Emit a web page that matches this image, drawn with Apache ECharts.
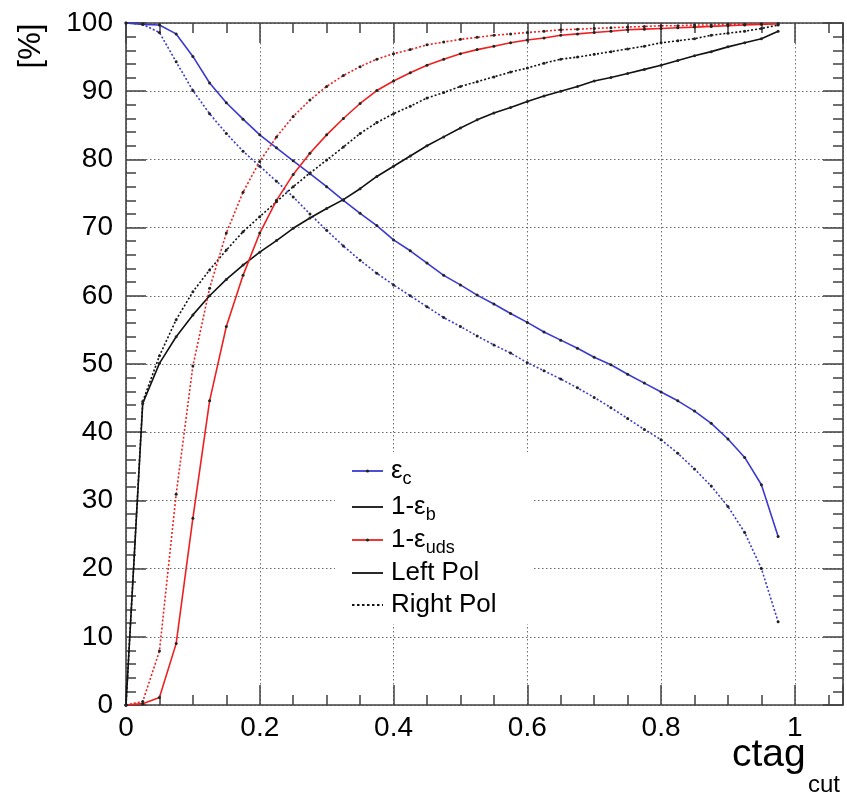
<!DOCTYPE html>
<html>
<head>
<meta charset="utf-8">
<script src="https://cdn.jsdelivr.net/npm/echarts@6/dist/echarts.min.js"></script>
<style>
html,body{margin:0;padding:0;background:#fff;}
#c{width:847px;height:797px;}
</style>
</head>
<body>
<div id="c"></div>
<script>
// ---------------- data ----------------
const ctagCut = [0,0.025,0.05,0.075,0.1,0.125,0.15,0.175,0.2,0.225,0.25,0.275,0.3,0.325,0.35,0.375,0.4,0.425,0.45,0.475,0.5,0.525,0.55,0.575,0.6,0.625,0.65,0.675,0.7,0.725,0.75,0.775,0.8,0.825,0.85,0.875,0.9,0.925,0.95,0.975];

// epsilon_c (blue)
const effCLeft  = [100,99.8,99.7,98.4,95.1,91.2,88.3,85.9,83.6,81.7,79.8,77.9,76.0,74.0,72.1,70.3,68.2,66.6,64.8,63.0,61.6,60.1,58.8,57.4,56.1,54.7,53.5,52.3,51.0,49.9,48.5,47.2,45.9,44.6,43.1,41.3,39.0,36.3,32.3,24.7];
const effCRight = [100,99.8,98.6,94.3,90.1,86.7,83.8,81.2,79.0,76.8,74.5,72.0,69.6,67.3,65.2,63.3,61.6,60.0,58.4,56.8,55.5,54.1,52.8,51.6,50.2,49.0,47.8,46.5,45.1,43.6,42.0,40.4,38.9,36.9,34.6,32.1,29.1,25.3,20.0,12.2];

// 1 - epsilon_b (black)
const bRejLeft  = [0,44.2,50.1,54.0,57.2,60.0,62.4,64.5,66.4,68.1,69.9,71.4,72.8,74.1,75.7,77.5,79.0,80.5,82.0,83.3,84.6,85.8,86.8,87.6,88.5,89.3,90.0,90.7,91.5,92.0,92.6,93.2,93.8,94.5,95.2,95.8,96.5,97.1,97.7,98.8];
const bRejRight = [0,44.5,51.2,56.5,60.6,63.8,66.7,69.4,71.6,73.8,76.0,78.0,79.9,81.8,83.8,85.4,86.7,87.8,89.0,89.8,90.7,91.4,92.1,92.8,93.4,94.1,94.7,95.0,95.4,95.8,96.2,96.6,97.1,97.4,97.7,98.2,98.5,98.8,99.2,99.7];

// 1 - epsilon_uds (red)
const udsRejLeft  = [0,0.2,1.1,9.0,27.4,44.6,55.5,63.0,69.2,74.0,77.8,80.9,83.6,86.0,88.2,90.1,91.5,92.7,93.8,94.7,95.5,96.1,96.6,97.1,97.5,97.8,98.2,98.4,98.6,98.8,99.0,99.1,99.2,99.3,99.4,99.5,99.6,99.7,99.8,99.9];
const udsRejRight = [0,0.5,7.9,30.9,49.7,61.1,69.2,75.2,79.7,83.3,86.3,88.7,90.7,92.3,93.6,94.7,95.5,96.1,96.8,97.2,97.6,97.9,98.2,98.4,98.6,98.8,99.0,99.1,99.2,99.3,99.4,99.5,99.6,99.6,99.7,99.7,99.8,99.8,99.9,99.9];

const xTickLabels = ['0','0.2','0.4','0.6','0.8','1'];
const yTickLabels = ['0','10','20','30','40','50','60','70','80','90','100'];

const legendLabels = [
  {main:'ε', sub:'c'},
  {main:'1-ε', sub:'b'},
  {main:'1-ε', sub:'uds'},
  {main:'Left Pol', sub:''},
  {main:'Right Pol', sub:''}
];
const xTitle = {main:'ctag', sub:'cut'};
const yTitle = '[%]';

// ---------------- style ----------------
const FONT = '"Liberation Sans", Arial, Helvetica, sans-serif';
const BLUE = '#3a3ad0';
const RED = '#ee2020';
const BLACK = '#111111';
const FRAME = '#404040';
const DOT = [2, 2];
const XMAX = 1.072;

const chart = echarts.init(document.getElementById('c'));

function pairs(ys) { return ctagCut.map((x, i) => [x, ys[i]]); }

function xLabel(v) {
  const k = Math.round(v / 0.2);
  if (Math.abs(v / 0.2 - k) > 1e-6) return '';
  return xTickLabels[k] || '';
}
function yLabel(v) {
  const k = Math.round(v / 10);
  return yTickLabels[k] || '';
}

const tickStyle = {color: FRAME, width: 1.5};
const gridLineStyle = {type: [1.5, 2.5], color: '#6a6a6a', width: 1};

const xAxes = [
  {type:'value', min:0, max:XMAX, interval:0.2, position:'bottom',
   axisLine:{show:true, onZero:false, lineStyle:{color:FRAME, width:1.6}},
   axisTick:{show:true, inside:true, length:20, lineStyle:tickStyle},
   axisLabel:{show:true, margin:9, fontSize:28, color:'#000', fontFamily:FONT, formatter:xLabel, showMaxLabel:true},
   splitLine:{show:true, lineStyle:gridLineStyle}},
  {type:'value', min:0, max:XMAX, interval:0.05, position:'bottom',
   axisLine:{show:false, onZero:false},
   axisTick:{show:true, inside:true, length:10, lineStyle:tickStyle},
   axisLabel:{show:false}, splitLine:{show:false}},
  {type:'value', min:0, max:XMAX, interval:0.2, position:'top',
   axisLine:{show:true, onZero:false, lineStyle:{color:FRAME, width:1.6}},
   axisTick:{show:true, inside:true, length:20, lineStyle:tickStyle},
   axisLabel:{show:false}, splitLine:{show:false}},
  {type:'value', min:0, max:XMAX, interval:0.05, position:'top',
   axisLine:{show:false, onZero:false},
   axisTick:{show:true, inside:true, length:10, lineStyle:tickStyle},
   axisLabel:{show:false}, splitLine:{show:false}}
];

const yAxes = [
  {type:'value', min:0, max:100, interval:10, position:'left',
   axisLine:{show:true, onZero:false, lineStyle:{color:FRAME, width:1.6}},
   axisTick:{show:true, inside:true, length:20, lineStyle:tickStyle},
   minorTick:{show:true, splitNumber:5, length:10, lineStyle:tickStyle},
   axisLabel:{show:true, margin:13, fontSize:28, color:'#000', fontFamily:FONT, formatter:yLabel},
   splitLine:{show:true, lineStyle:gridLineStyle}},
  {type:'value', min:0, max:100, interval:10, position:'right',
   axisLine:{show:true, onZero:false, lineStyle:{color:FRAME, width:1.6}},
   axisTick:{show:true, inside:true, length:20, lineStyle:tickStyle},
   minorTick:{show:true, splitNumber:5, length:10, lineStyle:tickStyle},
   axisLabel:{show:false}, splitLine:{show:false}}
];

function lineSeries(name, ys, color, dotted) {
  return {
    type:'line', name:name, data:pairs(ys), xAxisIndex:0, yAxisIndex:0,
    symbol:'circle', symbolSize:3, showSymbol:true,
    itemStyle:{color:'#222'},
    lineStyle:{color:color, width:1.6, type: dotted ? DOT : 'solid'},
    emphasis:{disabled:true}, silent:true, z:5
  };
}

// legend drawn as graphic elements
const legendRowsY = [471, 507, 540, 573, 605];
const legendSpec = [
  {color:BLUE, dotted:false, marker:true},
  {color:BLACK, dotted:false, marker:false},
  {color:RED, dotted:false, marker:true},
  {color:BLACK, dotted:false, marker:false},
  {color:BLACK, dotted:true, marker:false}
];
const graphics = [
  {type:'rect', shape:{x:335, y:452, width:197, height:172}, style:{fill:'#ffffff'}, z:50, silent:true}
];
legendSpec.forEach((s, i) => {
  const ry = legendRowsY[i];
  graphics.push({type:'line', shape:{x1:352, y1:ry, x2:383, y2:ry},
    style:{stroke:s.color, lineWidth:1.8, lineDash: s.dotted ? [2.5,2.5] : null}, z:51, silent:true});
  if (s.marker) {
    graphics.push({type:'circle', shape:{cx:367.5, cy:ry, r:1.6}, style:{fill:'#222'}, z:52, silent:true});
  }
  const L = legendLabels[i];
  const txt = L.sub ? '{m|' + L.main + '}{s|' + L.sub + '}' : '{m|' + L.main + '}';
  graphics.push({type:'text', x:391, y:ry, z:52, silent:true,
    style:{text:txt, verticalAlign:'middle', align:'left', fill:'#000',
      rich:{
        m:{fontSize:26, fontFamily:FONT, fill:'#000', verticalAlign:'middle'},
        s:{fontSize:18, fontFamily:FONT, fill:'#000', verticalAlign:'middle', padding:[17,0,0,0]}
      }}});
});
// axis titles
graphics.push({type:'text', x:732, y:755, z:52, silent:true,
  style:{text:xTitle.main, fontSize:39, fontFamily:FONT, fill:'#000', align:'left', verticalAlign:'middle'}});
graphics.push({type:'text', x:808, y:785, z:52, silent:true,
  style:{text:xTitle.sub, fontSize:24, fontFamily:FONT, fill:'#000', align:'left', verticalAlign:'middle'}});
graphics.push({type:'text', x:31, y:46, rotation:Math.PI/2, z:52, silent:true,
  style:{text:yTitle, fontSize:31, fontFamily:FONT, fill:'#000', align:'center', verticalAlign:'middle'}});

chart.setOption({
  animation:false,
  backgroundColor:'#ffffff',
  grid:{left:126, right:4, top:23, bottom:92, containLabel:false},
  xAxis:xAxes,
  yAxis:yAxes,
  series:[
    lineSeries('ε_c Left Pol', effCLeft, BLUE, false),
    lineSeries('ε_c Right Pol', effCRight, BLUE, true),
    lineSeries('1-ε_b Left Pol', bRejLeft, BLACK, false),
    lineSeries('1-ε_b Right Pol', bRejRight, BLACK, true),
    lineSeries('1-ε_uds Left Pol', udsRejLeft, RED, false),
    lineSeries('1-ε_uds Right Pol', udsRejRight, RED, true)
  ],
  graphic:{elements:graphics}
});
</script>
</body>
</html>
